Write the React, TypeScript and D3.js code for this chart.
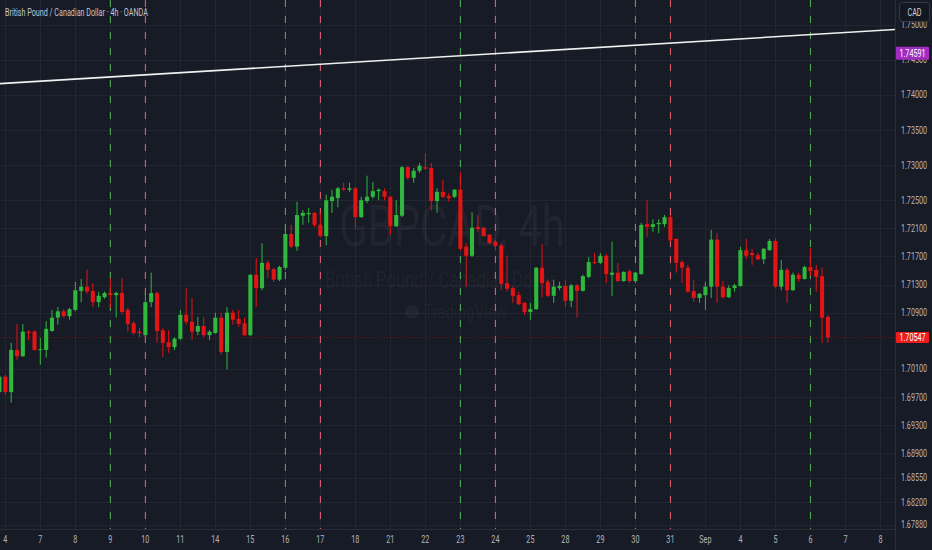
import React from "react";
import * as d3 from "d3";

// GBPCAD 4h candles, Aug 3 2023 -> Sep 6 2023 (6 bars per trading day)
const opens = [
  1.6977, 1.6999, 1.6977, 1.7037, 1.7028, 1.7063, 1.7063, 1.7037, 1.7037, 1.7064,
  1.7083, 1.7092, 1.7085, 1.7094, 1.7121, 1.7127, 1.7121, 1.7105, 1.7112, 1.7118,
  1.7115, 1.7118, 1.7094, 1.7075, 1.7063, 1.7058, 1.7105, 1.7118, 1.7065, 1.7048,
  1.7041, 1.7053, 1.7087, 1.7077, 1.7063, 1.7071, 1.7058, 1.7061, 1.7083, 1.7034,
  1.709, 1.7081, 1.7075, 1.7058, 1.7144, 1.7125, 1.7161, 1.7152, 1.7137, 1.7154,
  1.7202, 1.7184, 1.7228, 1.723, 1.7232, 1.7215, 1.7199, 1.7249, 1.7253, 1.7267,
  1.7265, 1.7267, 1.7226, 1.7249, 1.7255, 1.7263, 1.7263, 1.7255, 1.7213, 1.7228,
  1.7297, 1.7282, 1.7292, 1.7297, 1.7296, 1.7249, 1.7262, 1.7256, 1.7255, 1.7265,
  1.7184, 1.7171, 1.7212, 1.7211, 1.7201, 1.7191, 1.7186, 1.7132, 1.7125, 1.7115,
  1.7104, 1.7091, 1.7095, 1.7154, 1.7134, 1.7114, 1.7125, 1.7128, 1.7107, 1.7129,
  1.7121, 1.7141, 1.7162, 1.7161, 1.7171, 1.7144, 1.7147, 1.7135, 1.7149, 1.7135,
  1.7145, 1.7216, 1.7212, 1.7216, 1.7216, 1.7226, 1.7195, 1.7162, 1.7154, 1.7121,
  1.7111, 1.7115, 1.7127, 1.7194, 1.7127, 1.7112, 1.7125, 1.7128, 1.7179, 1.7175,
  1.7172, 1.7166, 1.7179, 1.7192, 1.7127, 1.7151, 1.7122, 1.7144, 1.7138, 1.7155,
  1.7151, 1.7142, 1.7084,
];
const highs = [
  1.7003, 1.7002, 1.7047, 1.7074, 1.7074, 1.7065, 1.7065, 1.7054, 1.7078, 1.7094,
  1.7098, 1.7095, 1.7097, 1.7134, 1.7138, 1.7151, 1.7132, 1.712, 1.712, 1.7139,
  1.712, 1.7139, 1.7097, 1.7078, 1.7068, 1.7118, 1.7147, 1.712, 1.7068, 1.7065,
  1.7055, 1.7094, 1.7125, 1.7111, 1.7084, 1.7084, 1.7065, 1.709, 1.709, 1.7098,
  1.7094, 1.7094, 1.7083, 1.7145, 1.7168, 1.7189, 1.7165, 1.7154, 1.7157, 1.7208,
  1.7215, 1.7248, 1.7236, 1.7239, 1.7233, 1.7232, 1.7258, 1.7265, 1.7269, 1.7275,
  1.7275, 1.7269, 1.7255, 1.7285, 1.7276, 1.7267, 1.7267, 1.7256, 1.725, 1.7299,
  1.7299, 1.7296, 1.7303, 1.7317, 1.7303, 1.7267, 1.7279, 1.726, 1.7266, 1.729,
  1.7189, 1.7233, 1.7229, 1.7212, 1.7202, 1.7194, 1.7189, 1.7171, 1.7127, 1.712,
  1.7105, 1.7104, 1.7155, 1.7188, 1.7137, 1.7137, 1.7134, 1.7137, 1.7131, 1.7131,
  1.7144, 1.7169, 1.7175, 1.7175, 1.7174, 1.7191, 1.7161, 1.7149, 1.7152, 1.7148,
  1.7218, 1.725, 1.7223, 1.7223, 1.7229, 1.7229, 1.7196, 1.7165, 1.7158, 1.7137,
  1.7118, 1.7134, 1.7208, 1.7203, 1.7135, 1.7129, 1.7131, 1.7184, 1.7195, 1.7181,
  1.7175, 1.7182, 1.7195, 1.7196, 1.7165, 1.7154, 1.7147, 1.7147, 1.7157, 1.7182,
  1.7158, 1.7154, 1.7087,
];
const lows = [
  1.6973, 1.6973, 1.6962, 1.7023, 1.7027, 1.7051, 1.7036, 1.7016, 1.7026, 1.7063,
  1.7073, 1.7083, 1.708, 1.7092, 1.7105, 1.7117, 1.7098, 1.7098, 1.711, 1.7097,
  1.7083, 1.7088, 1.7063, 1.7058, 1.7055, 1.7055, 1.7098, 1.7047, 1.7027, 1.7033,
  1.7037, 1.7051, 1.7073, 1.7051, 1.7058, 1.7055, 1.7051, 1.706, 1.703, 1.7009,
  1.7073, 1.707, 1.7057, 1.7057, 1.7098, 1.7122, 1.7139, 1.7134, 1.7135, 1.7151,
  1.7182, 1.7178, 1.7215, 1.7218, 1.7212, 1.7198, 1.7186, 1.7232, 1.724, 1.7263,
  1.7262, 1.7212, 1.7225, 1.7246, 1.7252, 1.725, 1.725, 1.7201, 1.7212, 1.7226,
  1.7279, 1.7275, 1.7289, 1.7293, 1.7236, 1.7232, 1.7253, 1.7248, 1.7253, 1.7178,
  1.7127, 1.7169, 1.7205, 1.7198, 1.7188, 1.7179, 1.7122, 1.712, 1.7104, 1.7101,
  1.7087, 1.708, 1.7094, 1.7112, 1.7112, 1.7104, 1.7122, 1.7098, 1.7098, 1.7083,
  1.712, 1.7139, 1.7159, 1.7159, 1.7132, 1.7114, 1.7134, 1.7134, 1.7132, 1.7132,
  1.7144, 1.7198, 1.7205, 1.7203, 1.7212, 1.7192, 1.7147, 1.7132, 1.7118, 1.7105,
  1.7104, 1.7094, 1.7111, 1.7104, 1.711, 1.7111, 1.712, 1.7127, 1.7166, 1.7158,
  1.7165, 1.7159, 1.7178, 1.7125, 1.7122, 1.7104, 1.7121, 1.7134, 1.7137, 1.7142,
  1.712, 1.7047, 1.7047,
];
const closes = [
  1.6999, 1.6977, 1.7037, 1.7028, 1.7063, 1.7061, 1.7037, 1.7038, 1.7067, 1.7083,
  1.7092, 1.7085, 1.7095, 1.7122, 1.7127, 1.712, 1.7105, 1.7114, 1.7118, 1.7115,
  1.7118, 1.7091, 1.7074, 1.7061, 1.7061, 1.7105, 1.7118, 1.7064, 1.7047, 1.7041,
  1.7053, 1.7087, 1.7077, 1.7063, 1.7071, 1.7058, 1.7063, 1.7083, 1.7034, 1.709,
  1.708, 1.7074, 1.7058, 1.7144, 1.7125, 1.7161, 1.7151, 1.7137, 1.7155, 1.7202,
  1.7184, 1.7229, 1.7232, 1.7232, 1.7215, 1.7199, 1.725, 1.7255, 1.7267, 1.7265,
  1.7267, 1.7226, 1.725, 1.7255, 1.7263, 1.7265, 1.7255, 1.7213, 1.7229, 1.7297,
  1.7282, 1.7292, 1.7299, 1.7295, 1.7249, 1.7262, 1.7255, 1.7253, 1.7265, 1.7181,
  1.7171, 1.7211, 1.7209, 1.7199, 1.7189, 1.7185, 1.7131, 1.7124, 1.7114, 1.7102,
  1.7091, 1.7095, 1.7154, 1.7132, 1.7114, 1.7127, 1.7128, 1.7107, 1.7129, 1.7121,
  1.7142, 1.7162, 1.7161, 1.7171, 1.7145, 1.7147, 1.7135, 1.7148, 1.7135, 1.7147,
  1.7215, 1.7212, 1.7216, 1.7218, 1.7226, 1.7193, 1.7161, 1.7154, 1.712, 1.7111,
  1.7117, 1.7127, 1.7194, 1.7127, 1.7112, 1.7125, 1.7129, 1.7179, 1.7171, 1.7172,
  1.7166, 1.7181, 1.7192, 1.7127, 1.7151, 1.7122, 1.7144, 1.7138, 1.7155, 1.7149,
  1.7141, 1.7083, 1.70547,
];

// trading-day labels on the time axis (first bar of each day = 1 + 6 * dayIndex)
const dayLabels = [
  "4", "7", "8", "9", "10", "11", "14", "15", "16", "17", "18", "21", "22",
  "23", "24", "25", "28", "29", "30", "31", "Sep", "4", "5", "6", "7", "8",
];
const barsPerDay = 6;
const firstBarOffset = 1;

// weekly session markers (day indexes into dayLabels)
const greenMarkerDays = [3, 8, 13, 18, 23];
const redMarkerDays = [4, 9, 14, 19];

const priceTicks = [
  1.75, 1.745, 1.74, 1.735, 1.73, 1.725, 1.721, 1.717, 1.713, 1.709,
  1.701, 1.697, 1.693, 1.689, 1.6855, 1.682, 1.6788,
];

const lastPrice = 1.70547;
const markPrice = 1.74591;
const trendStart = { bar: 0, price: 1.7416 };
const trendEnd = { bar: 153.5, price: 1.7493 };

const W = 932;
const H = 550;
const plotRight = 895;
const plotBottom = 529;

const BG = "#171b26";
const GRID = "#222632";
const AXIS_TEXT = "#b2b5be";
const UP = "#2fb83c";
const DOWN = "#e31414";
const FONT = "Roboto, 'Noto Sans', sans-serif";
const SQUEEZE = 0.72;

function Label(props: {
  x: number;
  y: number;
  size?: number;
  fill?: string;
  anchor?: "start" | "middle" | "end";
  weight?: number;
  children: React.ReactNode;
}) {
  const { x, y, size = 10, fill = AXIS_TEXT, anchor = "start", weight = 400, children } = props;
  return (
    <text
      transform={`translate(${x},${y}) scale(${SQUEEZE},1)`}
      fontSize={size}
      fill={fill}
      textAnchor={anchor}
      fontFamily={FONT}
      fontWeight={weight}
    >
      {children}
    </text>
  );
}

export default function App() {
  const x = d3.scaleLinear().domain([0, 153.5]).range([-0.5, plotRight]);
  const y = d3.scaleLinear().domain([1.6788, 1.75]).range([524.9, 24.6]);
  const step = x(1) - x(0);
  const bodyW = step * 0.7;

  const dayX = (d: number) => x(firstBarOffset + d * barsPerDay);

  const trendLine = d3
    .line<{ bar: number; price: number }>()
    .x((d) => x(d.bar))
    .y((d) => y(d.price));

  return (
    <div style={{ position: "absolute", left: 0, top: 0, width: W, height: H }}>
      <svg width={W} height={H} style={{ display: "block", background: BG }}>
        <defs>
          <clipPath id="plot-clip">
            <rect x={0} y={0} width={plotRight} height={plotBottom} />
          </clipPath>
        </defs>
        <rect width={W} height={H} fill={BG} />

        <g clipPath="url(#plot-clip)">
          {/* grid */}
          {priceTicks.map((t) => (
            <line key={`hg${t}`} x1={0} x2={plotRight} y1={Math.round(y(t)) + 0.5} y2={Math.round(y(t)) + 0.5} stroke={GRID} strokeWidth={1} />
          ))}
          {dayLabels.map((d, i) => (
            <line key={`vg${i}`} x1={Math.round(dayX(i)) + 0.5} x2={Math.round(dayX(i)) + 0.5} y1={0} y2={plotBottom} stroke={GRID} strokeWidth={1} />
          ))}

          {/* watermark */}
          <Label x={452} y={246} size={58} fill="rgba(255,255,255,0.045)" anchor="middle">GBPCAD, 4h</Label>
          <Label x={440} y={288} size={23} fill="rgba(255,255,255,0.045)" anchor="middle">British Pound / Canadian Dollar</Label>
          <circle cx={412} cy={312} r={7} fill="rgba(255,255,255,0.045)" />
          <Label x={424} y={319} size={21} fill="rgba(255,255,255,0.045)">TradingView</Label>

          {/* session markers */}
          {greenMarkerDays.map((d) => (
            <line key={`gm${d}`} x1={dayX(d)} x2={dayX(d)} y1={0} y2={plotBottom} stroke="#56b95b" strokeWidth={1} strokeDasharray="7,9" />
          ))}
          {redMarkerDays.map((d) => (
            <line key={`rm${d}`} x1={dayX(d)} x2={dayX(d)} y1={0} y2={plotBottom} stroke="#ee6477" strokeWidth={1} strokeDasharray="7,9" />
          ))}

          {/* last price line */}
          <line x1={0} x2={plotRight} y1={y(lastPrice)} y2={y(lastPrice)} stroke={DOWN} strokeOpacity={0.45} strokeWidth={1} strokeDasharray="1,2" />

          {/* candles */}
          {opens.map((o, i) => {
            const c = closes[i];
            const up = c >= o;
            const col = up ? UP : DOWN;
            const cx = x(i);
            const top = y(Math.max(o, c));
            const h = Math.max(1, Math.abs(y(o) - y(c)));
            return (
              <g key={`c${i}`}>
                <line x1={cx} x2={cx} y1={y(highs[i])} y2={y(lows[i])} stroke={col} strokeWidth={1} />
                <rect x={cx - bodyW / 2} y={top} width={bodyW} height={h} fill={col} />
              </g>
            );
          })}

          {/* trendline */}
          <path d={trendLine([trendStart, trendEnd]) || ""} stroke="#f0f0f0" strokeWidth={1.6} fill="none" />
        </g>

        {/* axis borders */}
        <line x1={plotRight + 0.5} x2={plotRight + 0.5} y1={0} y2={H} stroke="#2a2e39" />
        <line x1={0} x2={plotRight} y1={plotBottom + 0.5} y2={plotBottom + 0.5} stroke="#2a2e39" />

        {/* price axis */}
        {priceTicks.map((t) => (
          <Label key={`pt${t}`} x={914} y={y(t) + 3.5} anchor="middle">{t.toFixed(5)}</Label>
        ))}
        <rect x={896} y={y(markPrice) - 6.5} width={33} height={13} fill="#a22bc2" rx={1} />
        <Label x={912.5} y={y(markPrice) + 3.5} anchor="middle" fill="#ffffff">{markPrice.toFixed(5)}</Label>
        <rect x={896} y={y(lastPrice) - 5.5} width={33} height={11} fill="#f01b1b" rx={1} />
        <Label x={912.5} y={y(lastPrice) + 3.5} anchor="middle" fill="#ffffff">{lastPrice.toFixed(5)}</Label>

        {/* currency box */}
        <rect x={899.5} y={2.5} width={30} height={19} rx={3} fill="#131722" stroke="#363a45" />
        <Label x={914.5} y={15.5} anchor="middle" fill="#d1d4dc">CAD</Label>

        {/* time axis */}
        {dayLabels.map((d, i) => (
          <Label key={`dl${i}`} x={dayX(i)} y={543} anchor="middle">{d}</Label>
        ))}

        {/* title */}
        <Label x={5} y={16} fill="#c3c6ce">British Pound / Canadian Dollar · 4h · OANDA</Label>
      </svg>
    </div>
  );
}
